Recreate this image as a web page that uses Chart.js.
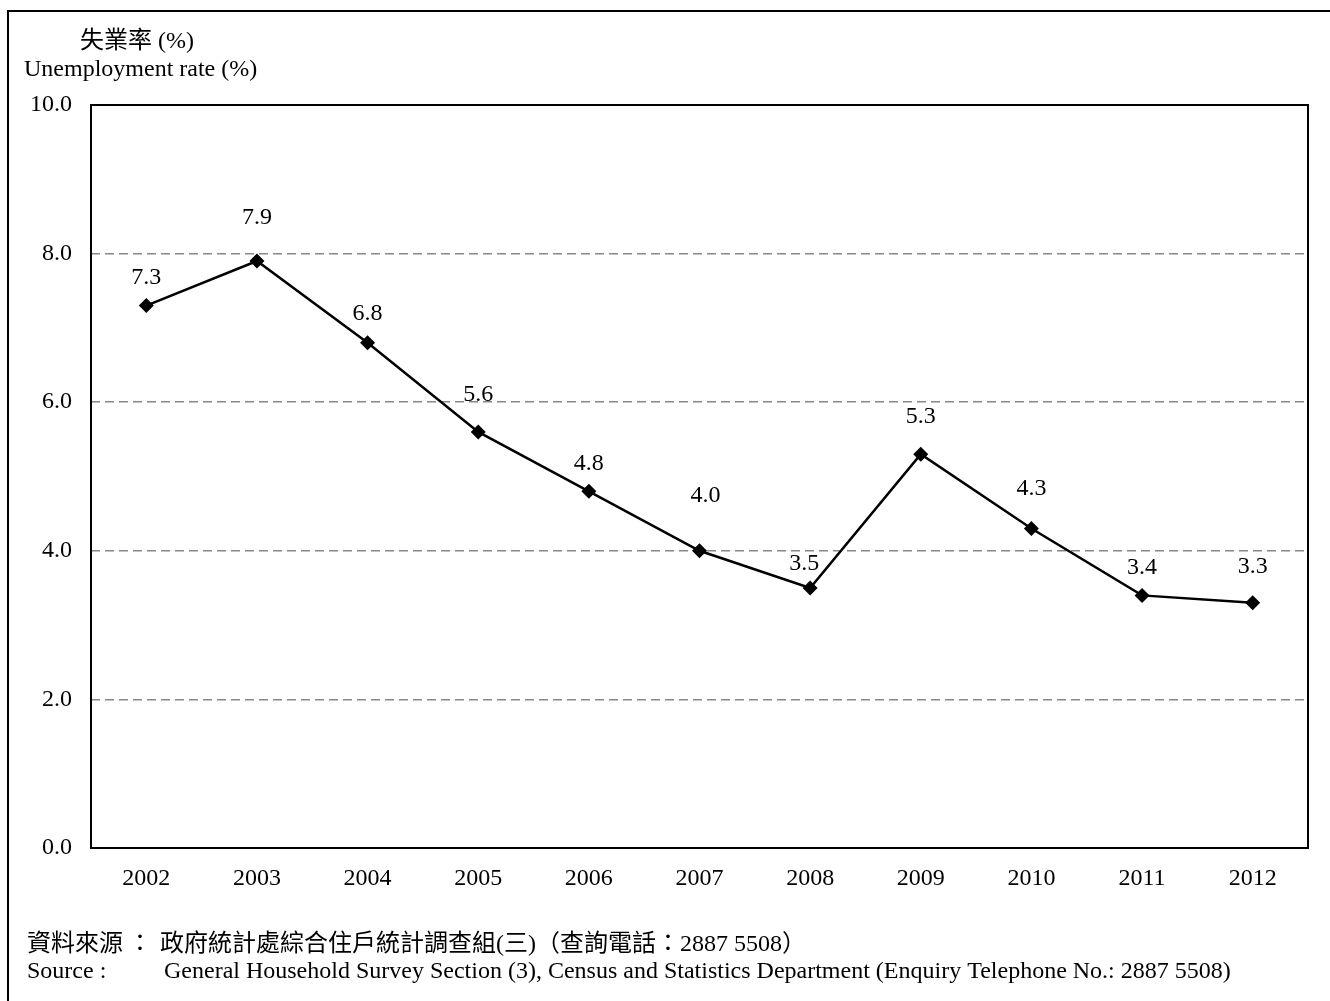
<!DOCTYPE html>
<html>
<head>
<meta charset="utf-8">
<script src="https://cdn.jsdelivr.net/npm/chart.js@4/dist/chart.umd.min.js"></script>
<style>
  html, body { margin: 0; padding: 0; background: #fff; }
  #wrap { position: relative; width: 1330px; height: 1001px; }
</style>
</head>
<body>
<div id="wrap"><canvas id="c" width="1330" height="1001"></canvas></div>
<script>
// Annual unemployment rate, 2002-2012
const years = ['2002', '2003', '2004', '2005', '2006', '2007', '2008', '2009', '2010', '2011', '2012'];
const rates = [7.3, 7.9, 6.8, 5.6, 4.8, 4.0, 3.5, 5.3, 4.3, 3.4, 3.3];
const yTicks = [0, 2, 4, 6, 8, 10];

const titleZh = '失業率 (%)';
const titleEn = 'Unemployment rate (%)';
const sourceZhLabel = '資料來源';
const sourceColon = '：';
const sourceZh = '政府統計處綜合住戶統計調查組(三)（查詢電話：2887 5508）';
const sourceEnLabel = 'Source :';
const sourceEn = 'General Household Survey Section (3), Census and Statistics Department (Enquiry Telephone No.: 2887 5508)';

const SERIF = '"Liberation Serif", "Times New Roman", serif';
const ZH = '"Liberation Serif", "Noto Sans CJK TC", serif';
const FS = 24;

// vertical gap (px) between each point and its value label, and a small sideways nudge
const labelGap = [28, 43, 29, 37, 28, 55, 24, 38, 40, 28, 36];
const labelShift = [0, 0, 0, 0, 0, 6, -6, 0, 0, 0, 0];

const decor = {
  id: 'decor',
  afterDraw(chart) {
    const ctx = chart.ctx;
    const a = chart.chartArea;
    ctx.save();
    // outer frame (left and top edges)
    ctx.strokeStyle = '#000';
    ctx.lineWidth = 2;
    ctx.beginPath();
    ctx.moveTo(8, 1001);
    ctx.lineTo(8, 11);
    ctx.lineTo(1330, 11);
    ctx.stroke();
    // plot border
    ctx.lineWidth = 2;
    ctx.strokeRect(a.left, a.top, a.right - a.left, a.bottom - a.top);

    // value labels
    const meta = chart.getDatasetMeta(0);
    ctx.fillStyle = '#000';
    ctx.font = FS + 'px ' + SERIF;
    ctx.textAlign = 'center';
    ctx.textBaseline = 'middle';
    meta.data.forEach((pt, i) => {
      ctx.fillText(rates[i].toFixed(1), pt.x + labelShift[i], pt.y - labelGap[i]);
    });

    // axis titles
    ctx.textAlign = 'left';
    ctx.textBaseline = 'alphabetic';
    ctx.font = FS + 'px ' + ZH;
    ctx.fillText(titleZh, 80, 48);
    ctx.font = FS + 'px ' + SERIF;
    ctx.fillText(titleEn, 24, 76);

    // source notes
    ctx.font = FS + 'px ' + ZH;
    ctx.fillText(sourceZhLabel, 27, 951);
    ctx.fillText(sourceColon, 128, 951);
    ctx.fillText(sourceZh, 160, 951);
    ctx.font = FS + 'px ' + SERIF;
    ctx.fillText(sourceEnLabel, 27, 978);
    ctx.fillText(sourceEn, 164, 978);
    ctx.restore();
  }
};

new Chart(document.getElementById('c'), {
  type: 'line',
  data: {
    labels: years,
    datasets: [{
      data: rates,
      borderColor: '#000',
      backgroundColor: '#000',
      borderWidth: 2.5,
      pointStyle: 'rectRot',
      pointRadius: 7.5,
      pointBorderWidth: 0,
      pointBackgroundColor: '#000',
      tension: 0,
      clip: false
    }]
  },
  options: {
    responsive: false,
    animation: false,
    events: [],
    layout: { padding: { left: 0, top: 105, right: 22, bottom: 0 } },
    plugins: { legend: { display: false }, tooltip: { enabled: false } },
    scales: {
      x: {
        offset: true,
        grid: { display: false, drawTicks: false },
        border: { display: false },
        ticks: { color: '#000', font: { family: SERIF, size: FS }, padding: 16, maxRotation: 0 },
        afterFit(scale) { scale.height = 153; }
      },
      y: {
        min: 0,
        max: 10,
        afterBuildTicks(scale) { scale.ticks = yTicks.map(v => ({ value: v })); },
        grid: {
          drawTicks: false,
          lineWidth: 1.5,
          color: ctx => (ctx.tick && (ctx.tick.value === 0 || ctx.tick.value === 10)) ? 'rgba(0,0,0,0)' : '#888'
        },
        border: { display: false, dash: [9, 5] },
        ticks: {
          color: '#000',
          font: { family: SERIF, size: FS },
          padding: 19,
          callback: v => Number(v).toFixed(1)
        },
        afterFit(scale) { scale.width = 91; }
      }
    }
  },
  plugins: [decor]
});
</script>
</body>
</html>
